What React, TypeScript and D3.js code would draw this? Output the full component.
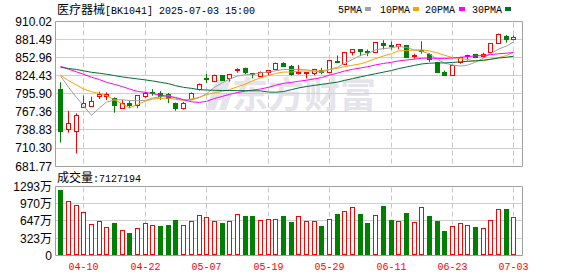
import React from 'react';
import * as d3 from 'd3';

const dates = [
  '04-07','04-08','04-09','04-10','04-11','04-14','04-15','04-16','04-17','04-18',
  '04-21','04-22','04-23','04-24','04-25','04-28','04-29','04-30','05-06','05-07',
  '05-08','05-09','05-12','05-13','05-14','05-15','05-16','05-19','05-20','05-21',
  '05-22','05-23','05-26','05-27','05-28','05-29','05-30','06-03','06-04','06-05',
  '06-06','06-09','06-10','06-11','06-12','06-13','06-16','06-17','06-18','06-19',
  '06-20','06-23','06-24','06-25','06-26','06-27','06-30','07-01','07-02','07-03'
];

const opens = [
  802, 740, 737, 774, 776, 791, 792, 788, 773, 780,
  777, 792, 797.5, 796, 794, 781, 772, 787.5, 802, 820,
  815, 824, 820, 833, 835, 827, 823, 829, 833.5, 843,
  838, 828, 828, 827, 833, 830, 847, 842, 861.4, 865.6,
  863, 861, 875.6, 872, 869.5, 871, 854, 864, 857, 845.5,
  828.7, 824.4, 844.5, 855, 857, 855, 861.4, 875.6, 885.8, 882
];
const highs = [
  814, 769, 765, 793, 791, 799, 798, 790, 786, 785,
  793, 799, 803, 800, 797, 782, 783, 798, 812, 827,
  826, 825, 826, 836, 837, 828, 831, 833, 845, 845.5,
  841, 841, 830, 835, 836.5, 849, 856, 861, 865.5, 866,
  865.6, 877, 880, 877.8, 874, 872, 858.8, 878.3, 859.6, 846,
  832.3, 841.6, 854, 857, 857.5, 860.4, 875.6, 890.6, 888.5, 887.7
];
const lows = [
  719, 734.6, 702, 774, 776, 787.5, 786, 766, 773, 773,
  773, 789.5, 792.7, 786.4, 781, 769, 771, 786, 801, 813,
  814, 816, 815, 829, 826.4, 820, 822, 825, 833, 838.6,
  824, 826, 820, 825, 826.4, 829, 845.5, 841, 856, 855,
  855, 860, 865.6, 865.6, 866, 852, 851, 858.8, 846, 829,
  824, 823.6, 843, 848, 852, 853, 860.4, 874, 876.2, 880
];
const closes = [
  736, 749, 761, 780, 784, 794, 794.5, 778, 781, 778,
  793, 796, 796.5, 791, 788, 773, 781, 796.4, 811, 818,
  824, 816.5, 825.5, 834.5, 829, 825.5, 829, 832, 844, 839,
  826, 829, 829.5, 834, 830, 848, 846, 860, 865, 862,
  861, 876, 871, 870.5, 873, 853, 855.5, 862, 849, 829.6,
  824.4, 840.3, 853.4, 856.5, 853, 857, 874.6, 889, 881.5, 884.7
];
// volume in 万
const volumes = [
  1217, 1021, 945, 812, 584, 627, 527, 589, 469, 418,
  507, 589, 564, 551, 570, 646, 564, 627, 754, 716,
  627, 589, 640, 773, 722, 722, 659, 678, 678, 722,
  608, 735, 627, 627, 551, 678, 760, 830, 906, 760,
  589, 754, 913, 646, 640, 780, 608, 906, 722, 627,
  456, 545, 589, 564, 532, 507, 659, 868, 855, 712.7194
];

const ma5Lead = [824, 806, 790, 777];
const ma10Lead = [825, 816.5, 809.6, 803.3, 799, 796.4, 792.7, 786.4, 779.6];
const ma20Lead = [839, 834.5, 830.3, 826.5, 821.8, 818.1, 813.8, 810.6, 807, 803.3,
  799.5, 798, 795.9, 793.8, 791.6, 790, 786.4, 783.2, 782.1];
const ma30Lead = [837.6, 835.5, 834, 831.9, 829.6, 828.1, 826.5, 824.4, 822.3, 820.8,
  819.2, 817.6, 816, 813.8, 811.7, 808.6, 805.9, 804.3, 802.2, 801.7,
  801.2, 801, 800.8, 800.7, 800.7, 800.5, 800.3, 798.5, 798.2];

const priceTicks = [910.02, 881.49, 852.96, 824.43, 795.90, 767.36, 738.83, 710.30, 681.77];
const volTicks = [1293, 970, 647, 323, 0];
const dateTicks = ['04-10', '04-22', '05-07', '05-19', '05-29', '06-11', '06-23', '07-03'];

const titleName = '医疗器械';
const titleRest = '[BK1041] 2025-07-03 15:00';
const volLabel = '成交量';
const lastVolume = '7127194';
const legendNames = ['5PMA', '10PMA', '20PMA', '30PMA'];
const legendColors = ['#a0a0a0', '#f5a300', '#ff00ff', '#006e35'];

const RED = '#ff0000';
const GREEN = '#008000';

function movingAvg(n: number, lead: number[]) {
  return closes.map((c, i) => (i < n - 1 ? lead[i] : (d3.mean(closes.slice(i - n + 1, i + 1)) as number)));
}

const MONO = '"Liberation Mono", "DejaVu Sans Mono", monospace';
const CJK = '"Noto Sans CJK SC", sans-serif';
const SANS = '"Liberation Sans", Arial, sans-serif';

export default function App() {
  const W = 578, H = 276;
  const left = 55.5, right = 522.5;
  const pTop = 21.2, pBot = 166.2;
  const vTop = 186.7, vBot = 255.2;

  const x = d3.scaleLinear().domain([0, dates.length - 1]).range([60.3, 513.4]);
  const yP = d3.scaleLinear().domain([priceTicks[priceTicks.length - 1], priceTicks[0]]).range([pBot, pTop]);
  const yV = d3.scaleLinear().domain([0, volTicks[0]]).range([vBot, vTop]);
  const cx = (i: number) => Math.round(x(i));
  const snap = (v: number) => Math.floor(v) + 0.5;

  const mas = [movingAvg(5, ma5Lead), movingAvg(10, ma10Lead), movingAvg(20, ma20Lead), movingAvg(30, ma30Lead)];
  const line = d3.line<number>().x((d, i) => cx(i) + 0.5).y(d => yP(d));

  const monoText = (s: string, xx: number, yy: number, fill: string, anchor: string = 'start', key?: string) => (
    <text key={key} x={xx} y={yy} fill={fill} fontFamily={MONO} fontSize={11} textAnchor={anchor}
      textLength={s.length * 6} lengthAdjust="spacingAndGlyphs">{s}</text>
  );

  const legendTextX = [338, 380, 425, 472];
  const legendSqX = [365, 413, 459, 505];

  return (
    <svg width={W} height={H} style={{ position: 'absolute', left: 0, top: 0, background: '#fff' }}>
      <rect x={0} y={0} width={W} height={H} fill="#fff" />
      {/* title */}
      <text x={57} y={14} fill="#000" fontFamily={CJK} fontSize={12}>{titleName}</text>
      {monoText(titleRest, 105, 14, '#000')}
      {/* legend */}
      {legendNames.map((n, k) => (
        <g key={n}>
          {monoText(n, legendTextX[k], 13, '#000')}
          <rect x={legendSqX[k]} y={7} width={6} height={4} fill={legendColors[k]} />
        </g>
      ))}

      {/* watermark */}
      <g fill="#e4e4ea">
        <path d="M206,110 L216,80 L231,80 L227,90 L222,90 L215,110 Z" />
        <path d="M212,93 L232,93 L226,110 L219,110 L222,100 L210,100 Z" />
        <text x={232} y={108} fontFamily={CJK} fontSize={36} fontWeight="bold" letterSpacing={0}>东方财富</text>
      </g>

      {/* price grid */}
      {priceTicks.map((t, k) => (
        <line key={'pg' + k} x1={left} x2={right} y1={snap(yP(t))} y2={snap(yP(t))}
          stroke={k === 0 || k === priceTicks.length - 1 ? '#a0a0a0' : '#cfcfcf'} strokeWidth={1} />
      ))}
      {/* volume grid */}
      {volTicks.map((t, k) => (
        <line key={'vg' + k} x1={left} x2={right} y1={snap(yV(t))} y2={snap(yV(t))}
          stroke={k === 0 || k === volTicks.length - 1 ? '#a0a0a0' : '#cfcfcf'} strokeWidth={1} />
      ))}
      {/* vertical dashed */}
      {dateTicks.map(d => {
        const i = dates.indexOf(d);
        const xx = cx(i) + 0.5;
        return (
          <g key={'vd' + d}>
            <line x1={xx} x2={xx} y1={snap(pTop) + 1} y2={snap(pBot)} stroke="#c8c8c8" strokeDasharray="5,3" />
            <line x1={xx} x2={xx} y1={snap(vTop) + 1} y2={snap(vBot)} stroke="#c8c8c8" strokeDasharray="5,3" />
          </g>
        );
      })}
      {/* borders */}
      <line x1={left} x2={left} y1={snap(pTop)} y2={snap(pBot)} stroke="#a0a0a0" />
      <line x1={right} x2={right} y1={snap(pTop)} y2={snap(pBot)} stroke="#a0a0a0" />
      <line x1={left} x2={left} y1={snap(vTop)} y2={snap(vBot)} stroke="#a0a0a0" />
      <line x1={right} x2={right} y1={snap(vTop)} y2={snap(vBot)} stroke="#a0a0a0" />

      {/* price labels */}
      {priceTicks.map((t, k) => (
        <text key={'pl' + k} x={52} y={yP(t) + 4.3} textAnchor="end" fill="#000" fontFamily={SANS} fontSize={12}>
          {t.toFixed(2)}
        </text>
      ))}
      {/* volume labels */}
      {volTicks.map((t, k) => (
        <text key={'vl' + k} x={52} y={yV(t) + 4.5} textAnchor="end" fill="#000" fontFamily={SANS} fontSize={12}>
          {t === 0 ? '0' : String(t)}
          {t === 0 ? null : <tspan fontFamily={CJK} fontSize={12}>万</tspan>}
        </text>
      ))}
      {/* volume title */}
      <text x={57} y={182} fill="#000" fontFamily={CJK} fontSize={12}>{volLabel}</text>
      {monoText(':' + lastVolume, 93, 182, '#000')}

      {/* candles */}
      {closes.map((c, i) => {
        const o = opens[i];
        const up = c > o;
        const col = up ? RED : GREEN;
        const xx = cx(i);
        const top = snap(yP(Math.max(o, c)));
        const bot = snap(yP(Math.min(o, c)));
        const h = Math.max(bot - top, 1);
        return (
          <g key={'c' + i}>
            <line x1={xx + 0.5} x2={xx + 0.5} y1={yP(highs[i])} y2={yP(lows[i])} stroke={col} />
            <rect x={xx - 1.5} y={top} width={4} height={h} fill={up ? '#fff' : col} stroke={col} />
          </g>
        );
      })}

      {/* moving averages */}
      {mas.map((m, k) => (
        <path key={'ma' + k} d={line(m) as string} fill="none" stroke={legendColors[k]} strokeWidth={1} />
      ))}

      {/* volume bars */}
      {volumes.map((v, i) => {
        const red = i === 0 ? closes[0] >= opens[0] : closes[i] >= closes[i - 1];
        const col = red ? RED : GREEN;
        const xx = cx(i);
        const top = snap(yV(v));
        const bot = snap(yV(0));
        return (
          <rect key={'v' + i} x={xx - 1.5} y={top} width={4} height={bot - top - 1}
            fill={red ? '#fff' : col} stroke={col} />
        );
      })}

      {/* date labels */}
      {dateTicks.map(d => monoText(d, cx(dates.indexOf(d)) + 0.5, 270, RED, 'middle', 'dl' + d))}
    </svg>
  );
}
